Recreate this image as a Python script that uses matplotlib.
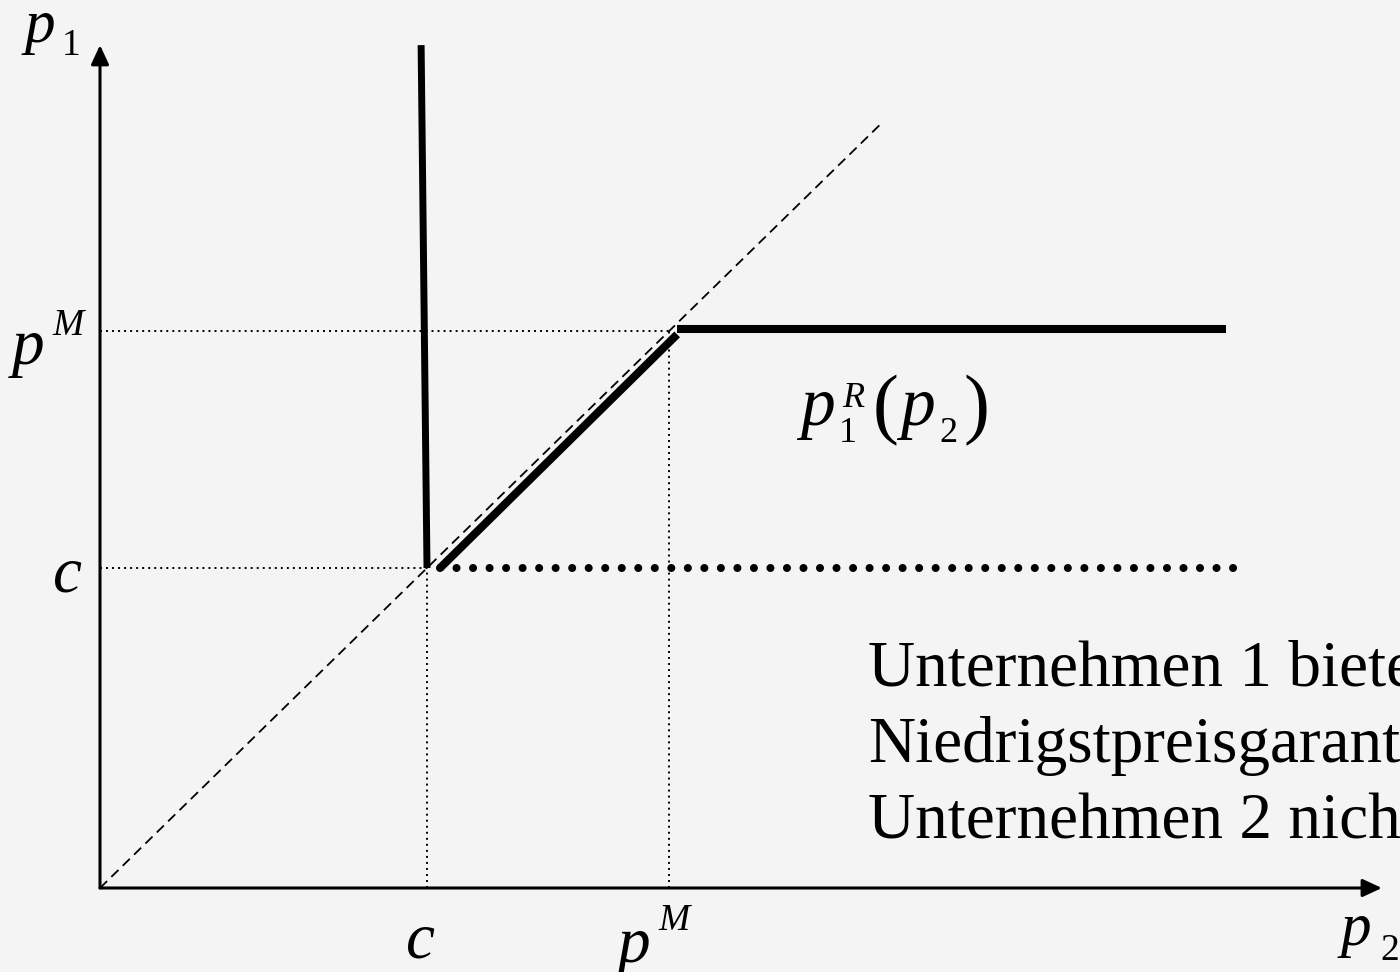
import matplotlib
matplotlib.use("Agg")
import matplotlib.pyplot as plt

# ---- data (economic units: c = 1) ----
c = 1.0
pM = 1.74
x_axis_end = 3.92
y_axis_end = 2.634
diag_end = 2.394

# reaction function of firm 1 (thick segments)
vert_x = [0.982, 1.0]
vert_y = [y_axis_end, c]
rise_x = [1.04, 1.765]
rise_y = [c, 1.73]
flat_x = [1.765, 3.443]
flat_y = [1.747, 1.747]
dots_x = [1.04, 3.50]
dots_y = [c, c]

caption_lines = ["Unternehmen 1 bietet", "Niedrigstpreisgarantie", "Unternehmen 2 nicht"]

W, H = 1400, 972
BG = "#f4f4f4"
FONT = "Liberation Serif"

fig = plt.figure(figsize=(W / 100, H / 100), dpi=100, facecolor=BG)
ax = fig.add_axes([100 / W, 84 / H, 1300 / W, 888 / H])
ax.set_facecolor(BG)
ax.set_xlim(0, 1300 / 327)
ax.set_ylim(0, 888 / 320)
ax.axis("off")

# axes with arrows
arrow_kw = dict(arrowstyle="-|>,head_length=0.58,head_width=0.27", mutation_scale=20,
                color="black", lw=2.2, shrinkA=0, shrinkB=0)
ax.annotate("", xy=(0, y_axis_end), xytext=(0, 0), arrowprops=arrow_kw, annotation_clip=False)
ax.annotate("", xy=(x_axis_end, 0), xytext=(0, 0), arrowprops=arrow_kw, annotation_clip=False)

# 45-degree dashed line
ax.plot([0, diag_end], [0, diag_end], color="black", lw=1.3, dashes=(5.5, 3.3))

# thin dotted guide lines
thin = dict(color="black", lw=1.4, dashes=(1.0, 2.1))
ax.plot([0, pM], [pM, pM], **thin)
ax.plot([0, c], [c, c], **thin)
ax.plot([c, c], [0, c], **thin)
ax.plot([pM, pM], [0, pM], **thin)

# reaction function
ax.plot(vert_x, vert_y, color="black", lw=5.0, solid_capstyle="butt")
ax.plot(rise_x, rise_y, color="black", lw=5.8, solid_capstyle="butt")
ax.plot(flat_x, flat_y, color="black", lw=5.8, solid_capstyle="butt")
ax.plot(dots_x, dots_y, color="black", lw=5.8, dashes=(0.001, 2.05),
        dash_capstyle="round")


def t(px, py, s, size, style="italic"):
    fig.text(px / W, 1 - py / H, s, fontsize=size, family=FONT, style=style,
             ha="left", va="baseline")


# axis labels
t(25, 42, "p", 44)
t(62, 55, "1", 27, "normal")
t(1341, 945, "p", 44)
t(1380, 960, "2", 27, "normal")

# left tick labels
t(12, 364, "p", 47)
t(52, 335, "M", 27)
t(53, 592, "c", 47)

# bottom tick labels
t(406, 957, "c", 47)
t(618, 962, "p", 47)
t(658, 930, "M", 27)

# reaction function label
t(800, 425, "p", 50)
t(839, 442, "1", 26, "normal")
t(842, 407, "R", 26)
t(873, 429, "(", 56, "normal")
t(900, 425, "p", 50)
t(939, 442, "2", 26, "normal")
t(964, 429, ")", 56, "normal")

# caption
for line, base in zip(caption_lines, [685, 762, 838]):
    t(868, base, line, 47, "normal")

fig.savefig("out.png", dpi=100, facecolor=BG)
